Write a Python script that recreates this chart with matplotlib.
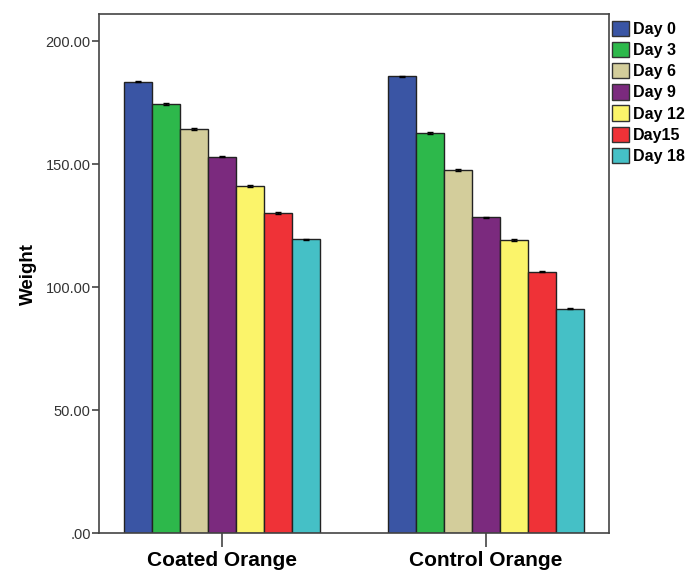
import numpy as np
import matplotlib.pyplot as plt
from matplotlib.patches import Patch

# ========== 数据 ==========
groups = ["Coated Orange", "Control Orange"]
days = ["Day 0", "Day 3", "Day 6", "Day 9", "Day 12", "Day15", "Day 18"]
coated = [183.5, 174.4, 164.3, 153.0, 141.2, 130.1, 119.4]
control = [185.6, 162.6, 147.6, 128.4, 119.2, 106.3, 91.1]
err_coated = [0.2, 0.4, 0.4, 0.2, 0.4, 0.4, 0.2]
err_control = [0.2, 0.3, 0.3, 0.2, 0.5, 0.2, 0.2]
colors = ["#3A55A4", "#2DB84B", "#D3CD9B", "#7B2A7E", "#FBF46A", "#EF3237", "#45C0C6"]

plt.rcParams["font.family"] = ["Liberation Sans", "DejaVu Sans"]

fig = plt.figure(figsize=(6.96, 5.71), dpi=100)
ax = fig.add_axes([0.1422, 0.0665, 0.7328, 0.909])

x = np.arange(len(groups))
n = len(days)
width = 0.74 / n
for i, day in enumerate(days):
    vals = [coated[i], control[i]]
    errs = [err_coated[i], err_control[i]]
    pos = x - 0.37 + width * (i + 0.5)
    ax.bar(pos, vals, width=width, color=colors[i], edgecolor="#222222", linewidth=1.0)
    ax.errorbar(pos, vals, yerr=errs, fmt="none", ecolor="black", capsize=2.5, elinewidth=1, capthick=1)

ax.set_xlim(-0.466, 1.466)
ax.set_ylim(0, 211)
ax.set_yticks([0, 50, 100, 150, 200])
ax.set_yticklabels([".00", "50.00", "100.00", "150.00", "200.00"], fontsize=10.5, color="#333333")
ax.set_xticks(x)
ax.set_xticklabels(groups, fontsize=15, fontweight="bold")
ax.tick_params(axis="x", length=10, width=1.2, color="#444444", pad=3)
ax.tick_params(axis="y", length=5, width=1.2, color="#444444", pad=1)
ax.set_ylabel("Weight", fontsize=13.5, fontweight="bold", labelpad=6)
for s in ax.spines.values():
    s.set_color("#444444")
    s.set_linewidth(1.2)

handles = [Patch(facecolor=c, edgecolor="#333333", label=d) for c, d in zip(colors, days)]
fig.legend(handles=handles, loc="upper left", bbox_to_anchor=(0.87, 0.975), frameon=False,
           prop={"weight": "bold", "size": 11.5}, handlelength=1.1, handleheight=1.1,
           handletextpad=0.2, labelspacing=0.32, borderaxespad=0)

fig.savefig("out.png", dpi=100)
